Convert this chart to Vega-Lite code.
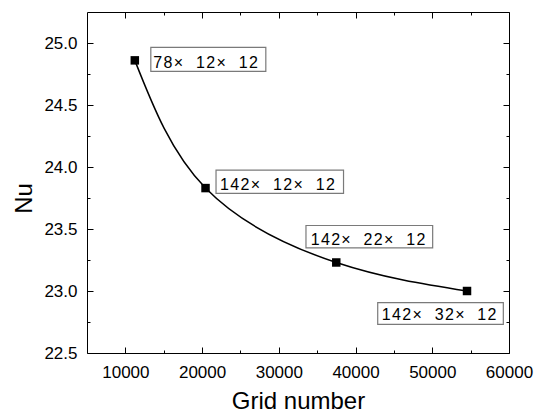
{
  "$schema": "https://vega.github.io/schema/vega-lite/v6.json",
  "width": 422,
  "height": 341,
  "autosize": "none",
  "padding": {"left": 87, "top": 12, "right": 25, "bottom": 60},
  "config": {
    "view": {"stroke": null},
    "font": "Liberation Sans",
    "axis": {
      "grid": false,
      "domainColor": "black",
      "domainWidth": 1,
      "tickColor": "black",
      "tickWidth": 1,
      "labelColor": "black",
      "labelFont": "Liberation Sans",
      "labelFontSize": 17,
      "titleColor": "black",
      "titleFont": "Liberation Sans",
      "titleFontSize": 24,
      "titleFontWeight": "normal",
      "labelFlush": false,
      "labelBound": false,
      "labelOverlap": false
    }
  },
  "datasets": {
    "pts": [
      {"grid": 11232, "nu": 24.86, "mesh": "7\u200a8\u200a×\u200a \u200a \u200a1\u200a2\u200a×\u200a \u200a \u200a1\u200a2"},
      {"grid": 20448, "nu": 23.83, "mesh": "1\u200a4\u200a2\u200a×\u200a \u200a \u200a1\u200a2\u200a×\u200a \u200a \u200a1\u200a2"},
      {"grid": 37488, "nu": 23.23, "mesh": "1\u200a4\u200a2\u200a×\u200a \u200a \u200a2\u200a2\u200a×\u200a \u200a \u200a1\u200a2"},
      {"grid": 54528, "nu": 23.0, "mesh": "1\u200a4\u200a2\u200a×\u200a \u200a \u200a3\u200a2\u200a×\u200a \u200a \u200a1\u200a2"}
    ]
  },
  "data": {"name": "pts"},
  "layer": [
    {
      "mark": {"type": "line", "interpolate": "natural", "color": "black", "strokeWidth": 1.5},
      "encoding": {
        "x": {
          "field": "grid", "type": "quantitative",
          "scale": {"domain": [5000, 60000], "nice": false, "zero": false},
          "axis": {
            "orient": "bottom",
            "title": "Grid number",
            "values": [10000, 15000, 20000, 25000, 30000, 35000, 40000, 45000, 50000, 55000, 60000],
            "format": "d",
            "labelExpr": "datum.value % 10000 === 0 ? datum.label : ''",
            "tickSize": {"condition": {"test": "datum.value % 10000 === 0", "value": -6}, "value": -3},
            "labelPadding": 17,
            "titleY": 55,
            "titleBaseline": "alphabetic"
          }
        },
        "y": {
          "field": "nu", "type": "quantitative",
          "scale": {"domain": [22.5, 25.25], "nice": false, "zero": false},
          "axis": {
            "orient": "left",
            "title": "Nu",
            "values": [22.5, 22.75, 23.0, 23.25, 23.5, 23.75, 24.0, 24.25, 24.5, 24.75, 25.0],
            "format": ".1f",
            "labelExpr": "round(datum.value * 100) % 50 === 0 ? datum.label : ''",
            "tickSize": {"condition": {"test": "round(datum.value * 100) % 50 === 0", "value": -6}, "value": -3},
            "labelPadding": 16,
            "titleAngle": 270,
            "titleX": -56,
            "titleY": 186,
            "titleAlign": "center",
            "titleBaseline": "alphabetic"
          }
        }
      }
    },
    {
      "mark": {"type": "square", "size": 72, "filled": true, "color": "black", "opacity": 1},
      "encoding": {
        "x": {
          "field": "grid", "type": "quantitative",
          "axis": {
            "orient": "top",
            "title": null,
            "labels": false,
            "values": [10000, 15000, 20000, 25000, 30000, 35000, 40000, 45000, 50000, 55000, 60000],
            "tickSize": {"condition": {"test": "datum.value % 10000 === 0", "value": -6}, "value": -3}
          }
        },
        "y": {
          "field": "nu", "type": "quantitative",
          "axis": {
            "orient": "right",
            "title": null,
            "labels": false,
            "values": [22.5, 22.75, 23.0, 23.25, 23.5, 23.75, 24.0, 24.25, 24.5, 24.75, 25.0],
            "tickSize": {"condition": {"test": "round(datum.value * 100) % 50 === 0", "value": -6}, "value": -3}
          }
        }
      }
    },
    {
      "transform": [{"filter": "datum.grid === 11232"}],
      "layer": [
        {
          "mark": {"type": "rect", "fill": "white", "stroke": "#7a7a7a", "strokeWidth": 1.2, "xOffset": 16, "x2Offset": 131, "yOffset": -13, "y2Offset": 11},
          "encoding": {
            "x": {"field": "grid", "type": "quantitative", "axis": null},
            "x2": {"field": "grid"},
            "y": {"field": "nu", "type": "quantitative", "axis": null},
            "y2": {"field": "nu"}
          }
        },
        {
          "mark": {"type": "text", "align": "left", "baseline": "alphabetic", "dx": 18.5, "dy": 7.3, "fontSize": 16, "font": "Liberation Sans", "color": "black"},
          "encoding": {
            "x": {"field": "grid", "type": "quantitative", "axis": null},
            "y": {"field": "nu", "type": "quantitative", "axis": null},
            "text": {"field": "mesh"}
          }
        }
      ]
    },
    {
      "transform": [{"filter": "datum.grid === 20448"}],
      "layer": [
        {
          "mark": {"type": "rect", "fill": "white", "stroke": "#7a7a7a", "strokeWidth": 1.2, "xOffset": 10.5, "x2Offset": 138, "yOffset": -18, "y2Offset": 5.3},
          "encoding": {
            "x": {"field": "grid", "type": "quantitative", "axis": null},
            "x2": {"field": "grid"},
            "y": {"field": "nu", "type": "quantitative", "axis": null},
            "y2": {"field": "nu"}
          }
        },
        {
          "mark": {"type": "text", "align": "left", "baseline": "alphabetic", "dx": 14.5, "dy": 1.8, "fontSize": 16, "font": "Liberation Sans", "color": "black"},
          "encoding": {
            "x": {"field": "grid", "type": "quantitative", "axis": null},
            "y": {"field": "nu", "type": "quantitative", "axis": null},
            "text": {"field": "mesh"}
          }
        }
      ]
    },
    {
      "transform": [{"filter": "datum.grid === 37488"}],
      "layer": [
        {
          "mark": {"type": "rect", "fill": "white", "stroke": "#7a7a7a", "strokeWidth": 1.2, "xOffset": -30.3, "x2Offset": 96.4, "yOffset": -37, "y2Offset": -14.7},
          "encoding": {
            "x": {"field": "grid", "type": "quantitative", "axis": null},
            "x2": {"field": "grid"},
            "y": {"field": "nu", "type": "quantitative", "axis": null},
            "y2": {"field": "nu"}
          }
        },
        {
          "mark": {"type": "text", "align": "left", "baseline": "alphabetic", "dx": -25.6, "dy": -17.5, "fontSize": 16, "font": "Liberation Sans", "color": "black"},
          "encoding": {
            "x": {"field": "grid", "type": "quantitative", "axis": null},
            "y": {"field": "nu", "type": "quantitative", "axis": null},
            "text": {"field": "mesh"}
          }
        }
      ]
    },
    {
      "transform": [{"filter": "datum.grid === 54528"}],
      "layer": [
        {
          "mark": {"type": "rect", "fill": "white", "stroke": "#7a7a7a", "strokeWidth": 1.2, "xOffset": -89.3, "x2Offset": 36.3, "yOffset": 11.6, "y2Offset": 33.3},
          "encoding": {
            "x": {"field": "grid", "type": "quantitative", "axis": null},
            "x2": {"field": "grid"},
            "y": {"field": "nu", "type": "quantitative", "axis": null},
            "y2": {"field": "nu"}
          }
        },
        {
          "mark": {"type": "text", "align": "left", "baseline": "alphabetic", "dx": -85.3, "dy": 28.5, "fontSize": 16, "font": "Liberation Sans", "color": "black"},
          "encoding": {
            "x": {"field": "grid", "type": "quantitative", "axis": null},
            "y": {"field": "nu", "type": "quantitative", "axis": null},
            "text": {"field": "mesh"}
          }
        }
      ]
    }
  ],
  "resolve": {"axis": {"x": "independent", "y": "independent"}}
}
